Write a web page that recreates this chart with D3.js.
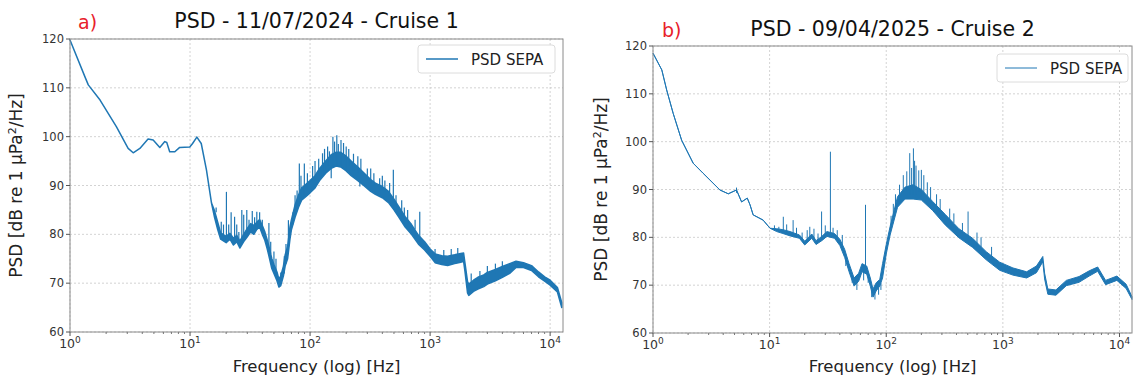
<!DOCTYPE html>
<html>
<head>
<meta charset="utf-8">
<script src="https://cdn.jsdelivr.net/npm/d3@7"></script>
<style>
  body { margin: 0; background: #fff; }
  svg { font-family: "DejaVu Sans", sans-serif; }
</style>
</head>
<body>
<svg id="chart" width="1136" height="380"></svg>
<script>
// Cruise 1 (11/07/2024) - frequency [Hz], lower / upper edge of the trace [dB]
const freqA = [1, 1.33, 1.42, 1.78, 2.44, 3.05, 3.36, 3.82, 4.47, 4.93, 5.6, 6.16, 6.4, 6.77, 7.47, 8.2, 9.95, 10.5, 11.4, 12.4, 13.7, 15.1,
  16, 17, 18, 20, 21.5, 23, 24.5, 26, 28, 30, 32, 34, 36, 38, 40, 42, 44, 46, 48, 50, 53, 55, 57, 60, 62, 65, 68, 70, 75, 80, 85, 90, 100,
  110, 120, 135, 150, 165, 180, 200, 220, 250, 280, 320, 350, 400, 450, 500, 550, 620, 700, 800, 900,
  1000, 1100, 1250, 1400, 1600, 1800, 1900, 1950, 2050, 2100, 2300, 2500, 2800, 3000, 3500, 4000, 4600, 5200, 6000, 7000, 8000, 9000, 10000, 11500, 12500];
const loA = [119.8, 112.3, 110.6, 107.5, 102, 97.6, 96.7, 97.6, 99.5, 99.3, 97.8, 99, 98.8, 96.9, 96.9, 97.8, 97.9, 98.6, 99.9, 98.6, 93.2, 86.4,
  83.5, 81, 79, 78.3, 79, 77.8, 78.5, 77.2, 78.5, 79.5, 80.5, 80, 81, 81.5, 80, 78.8, 77, 75, 73, 72, 70.5, 69.2, 69.5, 71.5, 73.5, 75, 79, 81, 83.5, 85.5, 87, 87.5, 88.5,
  89.5, 91, 92.5, 93.5, 94, 93.8, 93, 92, 91, 90, 88.8, 88.2, 87.5, 86.5, 85, 83.5, 81.5, 80, 78, 76.8,
  75.5, 74.2, 73.8, 73.6, 74, 74.3, 74.5, 72.5, 68, 67.5, 68.3, 68.8, 69.3, 69.8, 70.5, 71.2, 72, 73.2, 73.2, 72.6, 71.3, 70.4, 69.6, 68.2, 65];
const hiA = [119.8, 112.3, 110.6, 107.5, 102, 97.6, 96.7, 97.6, 99.5, 99.3, 97.8, 99, 98.8, 96.9, 96.9, 97.8, 97.9, 98.6, 99.9, 98.6, 93.2, 86.4,
  84.8, 82.5, 80.3, 79.6, 80.2, 79.2, 79.8, 78.6, 80, 81.2, 82.2, 81.8, 82.5, 83, 81.8, 80.5, 78.8, 77, 75, 73.8, 72.3, 70.8, 71.5, 73.5, 75.8, 77.5, 81.5, 83, 86, 88, 89.5, 90, 91,
  92, 93.5, 95, 96.3, 96.8, 96.8, 96, 95, 93.8, 92.6, 91.2, 90.5, 89.8, 88.8, 87.2, 85.6, 83.6, 82, 79.8, 78.5,
  77, 76, 75.6, 75.5, 75.8, 76.1, 76.2, 74.2, 70.3, 69.8, 70.6, 71.2, 71.7, 72.2, 72.8, 73.4, 74, 74.5, 74.2, 73.6, 72.3, 71.3, 70.6, 69.1, 66];
// narrow spikes of the trace: frequency, start level, end level
const spikesA = [[16.5, 84.5, 85.5], [18.2, 80, 82.6], [19, 80, 82], [20.1, 79, 88.7], [21, 79.5, 82], [22, 79, 84.5],
  [23.5, 78.5, 83.6], [24.5, 79, 82], [25.5, 78, 80.5], [27, 78, 85], [28, 79, 84], [29.7, 80, 85], [31, 80.5, 83],
  [33, 81, 84.8], [34.5, 81, 83.5], [36, 81, 84.6], [38, 82, 84.5], [40, 80.5, 83], [45.4, 76, 82.3], [47, 76, 78.5],
  [50, 73, 76.5], [52, 72, 75], [57, 70, 72.2], [61, 72, 75.5], [63, 74, 78], [66, 76, 82.9], [72, 82, 84.5],
  [75, 84, 88], [78, 85, 89], [81.4, 86, 94.5], [84, 87, 92], [89.6, 88, 94.5], [95, 89, 92.5],
  [105, 90.5, 94], [110, 91, 95], [118, 92, 95.5], [127, 92, 96.6], [132, 93, 97.5], [140, 94, 98], [145, 94, 97],
  [150, 93.5, 91.5], [155, 94, 100], [160, 95, 99], [167, 94, 100.3], [172, 95, 98.5], [181, 94, 99.3], [190, 95, 98.7],
  [200, 93, 98], [210, 94, 97.5], [230, 93, 96.5], [250, 92.5, 96], [265, 92, 95.5], [260, 91, 89.8], [300, 91, 93.5],
  [320, 90.5, 93.5], [340, 90, 92.5], [380, 89, 91.5], [400, 89, 92], [420, 88.5, 91], [460, 88, 90.5], [494, 86.5, 93.2],
  [520, 86, 88], [580, 83, 87], [610, 83, 85.5], [650, 82, 85], [750, 81, 83], [820, 78, 84.6],
  [1100, 75.5, 77], [1300, 75, 76.8], [1500, 75, 77], [1700, 75.5, 77.2],
  [2200, 70, 72], [2600, 70.5, 72.5], [3000, 71.5, 73.5], [3500, 72, 74], [4000, 72.5, 74.5]];

// Cruise 2 (09/04/2025)
const freqB = [1, 1.02, 1.19, 1.31, 1.49, 1.76, 2.21, 2.69, 3.75, 4.42, 5.2, 5.75, 6.43, 6.79, 7.22, 8.8, 10.07,
  11.5, 13, 15, 18, 20, 23, 25, 28, 31, 36, 40, 44, 48, 53, 58, 62, 68, 73, 77, 82, 88, 93, 100, 108, 125, 145, 170, 200,
  250, 320, 420, 550, 720, 940, 1220, 1600, 1940, 2200, 2280, 2430, 2850, 3500, 4500, 5500, 6500, 7600, 9500, 11400, 12800];
const loB = [118.5, 118.1, 115, 110.8, 105.9, 100.3, 95.5, 93.4, 89.9, 89.1, 89.9, 87.4, 88.2, 86.8, 84.7, 83.6, 81.9,
  81.2, 80.8, 80.3, 79.8, 78.4, 79.8, 78.5, 79.3, 80.2, 79.8, 78.3, 75.8, 72.8, 69.8, 70.8, 72.8, 72.3, 69.8, 67.5, 68.8, 69.8, 71.5, 76.5, 80.5, 86.3, 88, 88, 87.8,
  85.6, 82.6, 79.9, 77.9, 75.3, 73.1, 72.1, 71.5, 72.6, 74.9, 71.3, 68.1, 67.9, 69.9, 70.6, 71.9, 72.9, 70.1, 71, 69.3, 67];
const hiB = [118.5, 118.1, 115, 110.8, 105.9, 100.3, 95.5, 93.4, 89.9, 89.1, 89.9, 87.4, 88.2, 86.8, 84.7, 83.6, 81.9,
  81.8, 81.6, 81.2, 80.5, 79.2, 80.7, 79.3, 80.2, 81.2, 80.8, 79.6, 77.5, 74.5, 71.5, 72.5, 74.5, 74, 71.5, 69.2, 70.5, 71.2, 74.5, 78.5, 82.3, 88.5, 90.5, 91, 90,
  87.5, 84.8, 81.8, 79.8, 77, 74.8, 73.6, 72.8, 74, 76, 72.5, 69.2, 69, 71, 71.8, 73, 73.8, 71, 71.9, 70.2, 67.6];
const spikesB = [[5.2, 89.3, 90.4], [11, 81.5, 82.5], [12, 81.2, 82.2], [13.1, 81.5, 84.3], [14, 81, 82.7], [15.9, 81, 83.6],
  [17, 80.5, 82], [19, 79.5, 81], [21, 79, 81.5], [22.1, 80, 82.2], [24, 79.5, 81.8], [26, 79, 80.8], [27.9, 79.5, 85.4],
  [30, 80.5, 82.5], [33.2, 80.5, 97.9], [35, 80.5, 82], [38, 79.5, 81.5], [42, 78, 80.5], [45, 76, 74], [51, 72, 70.5],
  [56, 71, 69], [64, 73, 71], [66.4, 73, 86.8], [70, 72, 70.5], [75, 69, 67.5], [80, 68.5, 67], [86, 69.5, 68], [90, 70.5, 69],
  [110, 82, 84.5], [115, 84, 87], [120, 86, 89], [130, 88, 91], [140, 89.5, 93], [150, 90, 93.8], [159, 89, 97.6],
  [165, 90, 94.5], [171, 89, 98.6], [175, 90, 96], [180, 89, 95], [190, 89.5, 94], [200, 88.5, 94.1], [210, 89, 93],
  [225, 88.5, 91.5], [240, 87.5, 90.5], [270, 86.5, 89], [290, 85.5, 88], [350, 83.5, 86], [380, 83, 85], [450, 81, 83],
  [503, 78.8, 85.4], [600, 78.5, 81], [650, 78, 80], [800, 76, 78]];

const yTicks = [60, 70, 80, 90, 100, 110, 120];
const xTicks = [1, 10, 100, 1000, 10000];
const titles = ["PSD - 11/07/2024 - Cruise 1", "PSD - 09/04/2025 - Cruise 2"];
const tags = ["a)", "b)"];
const legendLabel = "PSD SEPA";

const svg = d3.select("#chart");
const color = "#1f77b4";

function drawPanel(p) {
  const x = d3.scaleLog().domain([1, 12800]).range([p.left, p.right]);
  const y = d3.scaleLinear().domain([60, 120]).range([p.bottom, p.top]);
  const g = svg.append("g");

  // grid
  g.selectAll(".gx").data(xTicks).join("line")
    .attr("x1", d => x(d)).attr("x2", d => x(d))
    .attr("y1", p.top).attr("y2", p.bottom)
    .attr("stroke", "#c8c8c8").attr("stroke-width", 0.8).attr("stroke-dasharray", "2,2");
  g.selectAll(".gy").data(yTicks).join("line")
    .attr("x1", p.left).attr("x2", p.right)
    .attr("y1", d => y(d)).attr("y2", d => y(d))
    .attr("stroke", "#c8c8c8").attr("stroke-width", 0.8).attr("stroke-dasharray", "2,2");

  // trace
  const pts = p.freq.map((f, i) => [f, p.lo[i], p.hi[i]]);
  const area = d3.area().x(d => x(d[0])).y0(d => y(d[1])).y1(d => y(d[2]));
  g.append("path").datum(pts).attr("d", area)
    .attr("fill", color).attr("stroke", color)
    .attr("stroke-width", p.lw).attr("stroke-linejoin", "round");
  g.selectAll(".spike").data(p.spikes).join("line")
    .attr("x1", d => x(d[0])).attr("x2", d => x(d[0]))
    .attr("y1", d => y(d[1])).attr("y2", d => y(d[2]))
    .attr("stroke", color).attr("stroke-width", p.spikeW);

  // frame
  g.append("rect").attr("x", p.left).attr("y", p.top)
    .attr("width", p.right - p.left).attr("height", p.bottom - p.top)
    .attr("fill", "none").attr("stroke", "#8a8a8a").attr("stroke-width", 1);

  // y ticks
  g.selectAll(".ty").data(yTicks).join("line")
    .attr("x1", p.left - 4).attr("x2", p.left)
    .attr("y1", d => y(d)).attr("y2", d => y(d)).attr("stroke", "#555");
  g.selectAll(".ly").data(yTicks).join("text")
    .attr("x", p.left - 6).attr("y", d => y(d) + 4)
    .attr("text-anchor", "end").attr("font-size", 11.5).attr("fill", "#333")
    .text(d => d);

  // x ticks (major + log minor)
  const minor = [];
  [1, 10, 100, 1000, 10000].forEach(dec => {
    for (let k = 2; k <= 9; k++) if (dec * k <= 12800) minor.push(dec * k);
  });
  g.selectAll(".mx").data(minor).join("line")
    .attr("x1", d => x(d)).attr("x2", d => x(d))
    .attr("y1", p.bottom).attr("y2", p.bottom + 2).attr("stroke", "#777");
  g.selectAll(".tx").data(xTicks).join("line")
    .attr("x1", d => x(d)).attr("x2", d => x(d))
    .attr("y1", p.bottom).attr("y2", p.bottom + 4).attr("stroke", "#555");
  const lx = g.selectAll(".lx").data(xTicks).join("text")
    .attr("x", d => x(d)).attr("y", p.bottom + 16)
    .attr("text-anchor", "middle").attr("font-size", 12.5).attr("fill", "#333");
  lx.append("tspan").text("10");
  lx.append("tspan").attr("dy", -5).attr("font-size", 9).text(d => Math.round(Math.log10(d)));

  // axis labels
  g.append("text").attr("x", (p.left + p.right) / 2).attr("y", 372)
    .attr("text-anchor", "middle").attr("font-size", 16.5).attr("fill", "#222")
    .text("Frequency (log) [Hz]");
  const yl = g.append("text")
    .attr("transform", `translate(${p.ylabelX},${(p.top + p.bottom) / 2}) rotate(-90)`)
    .attr("text-anchor", "middle").attr("font-size", 17).attr("fill", "#222");
  yl.append("tspan").text("PSD [dB re 1 \u03bcPa");
  yl.append("tspan").attr("dy", -6).attr("font-size", 11).text("2");
  yl.append("tspan").attr("dy", 6).text("/Hz]");

  // title and tag
  g.append("text").attr("x", (p.left + p.right) / 2).attr("y", p.titleY)
    .attr("text-anchor", "middle").attr("font-size", 20.5).attr("fill", "#111")
    .text(p.title);
  g.append("text").attr("x", p.tagX).attr("y", p.titleY + 1)
    .attr("font-size", 19).attr("fill", "#e8202a").text(p.tag);

  // legend
  g.append("rect").attr("x", p.legX).attr("y", p.legY).attr("width", p.legW).attr("height", 28)
    .attr("rx", 3).attr("fill", "#fff").attr("stroke", "#dcdcdc");
  g.append("line").attr("x1", p.legX + 8).attr("x2", p.legX + 40)
    .attr("y1", p.legY + 14).attr("y2", p.legY + 14)
    .attr("stroke", color).attr("stroke-width", p.lw);
  g.append("text").attr("x", p.legX + 53).attr("y", p.legY + 19.5)
    .attr("font-size", 15).attr("fill", "#222").text(legendLabel);
}

drawPanel({ left: 70, right: 563, top: 39, bottom: 332, ylabelX: 22, titleY: 28, tagX: 78,
  legX: 418, legY: 45, legW: 137, lw: 1.5, spikeW: 1.2, title: titles[0], tag: tags[0],
  freq: freqA, lo: loA, hi: hiA, spikes: spikesA });
drawPanel({ left: 653, right: 1132, top: 46, bottom: 333, ylabelX: 607, titleY: 36, tagX: 662,
  legX: 997, legY: 54, legW: 131, lw: 1.0, spikeW: 1.0, title: titles[1], tag: tags[1],
  freq: freqB, lo: loB, hi: hiB, spikes: spikesB });
</script>
</body>
</html>
